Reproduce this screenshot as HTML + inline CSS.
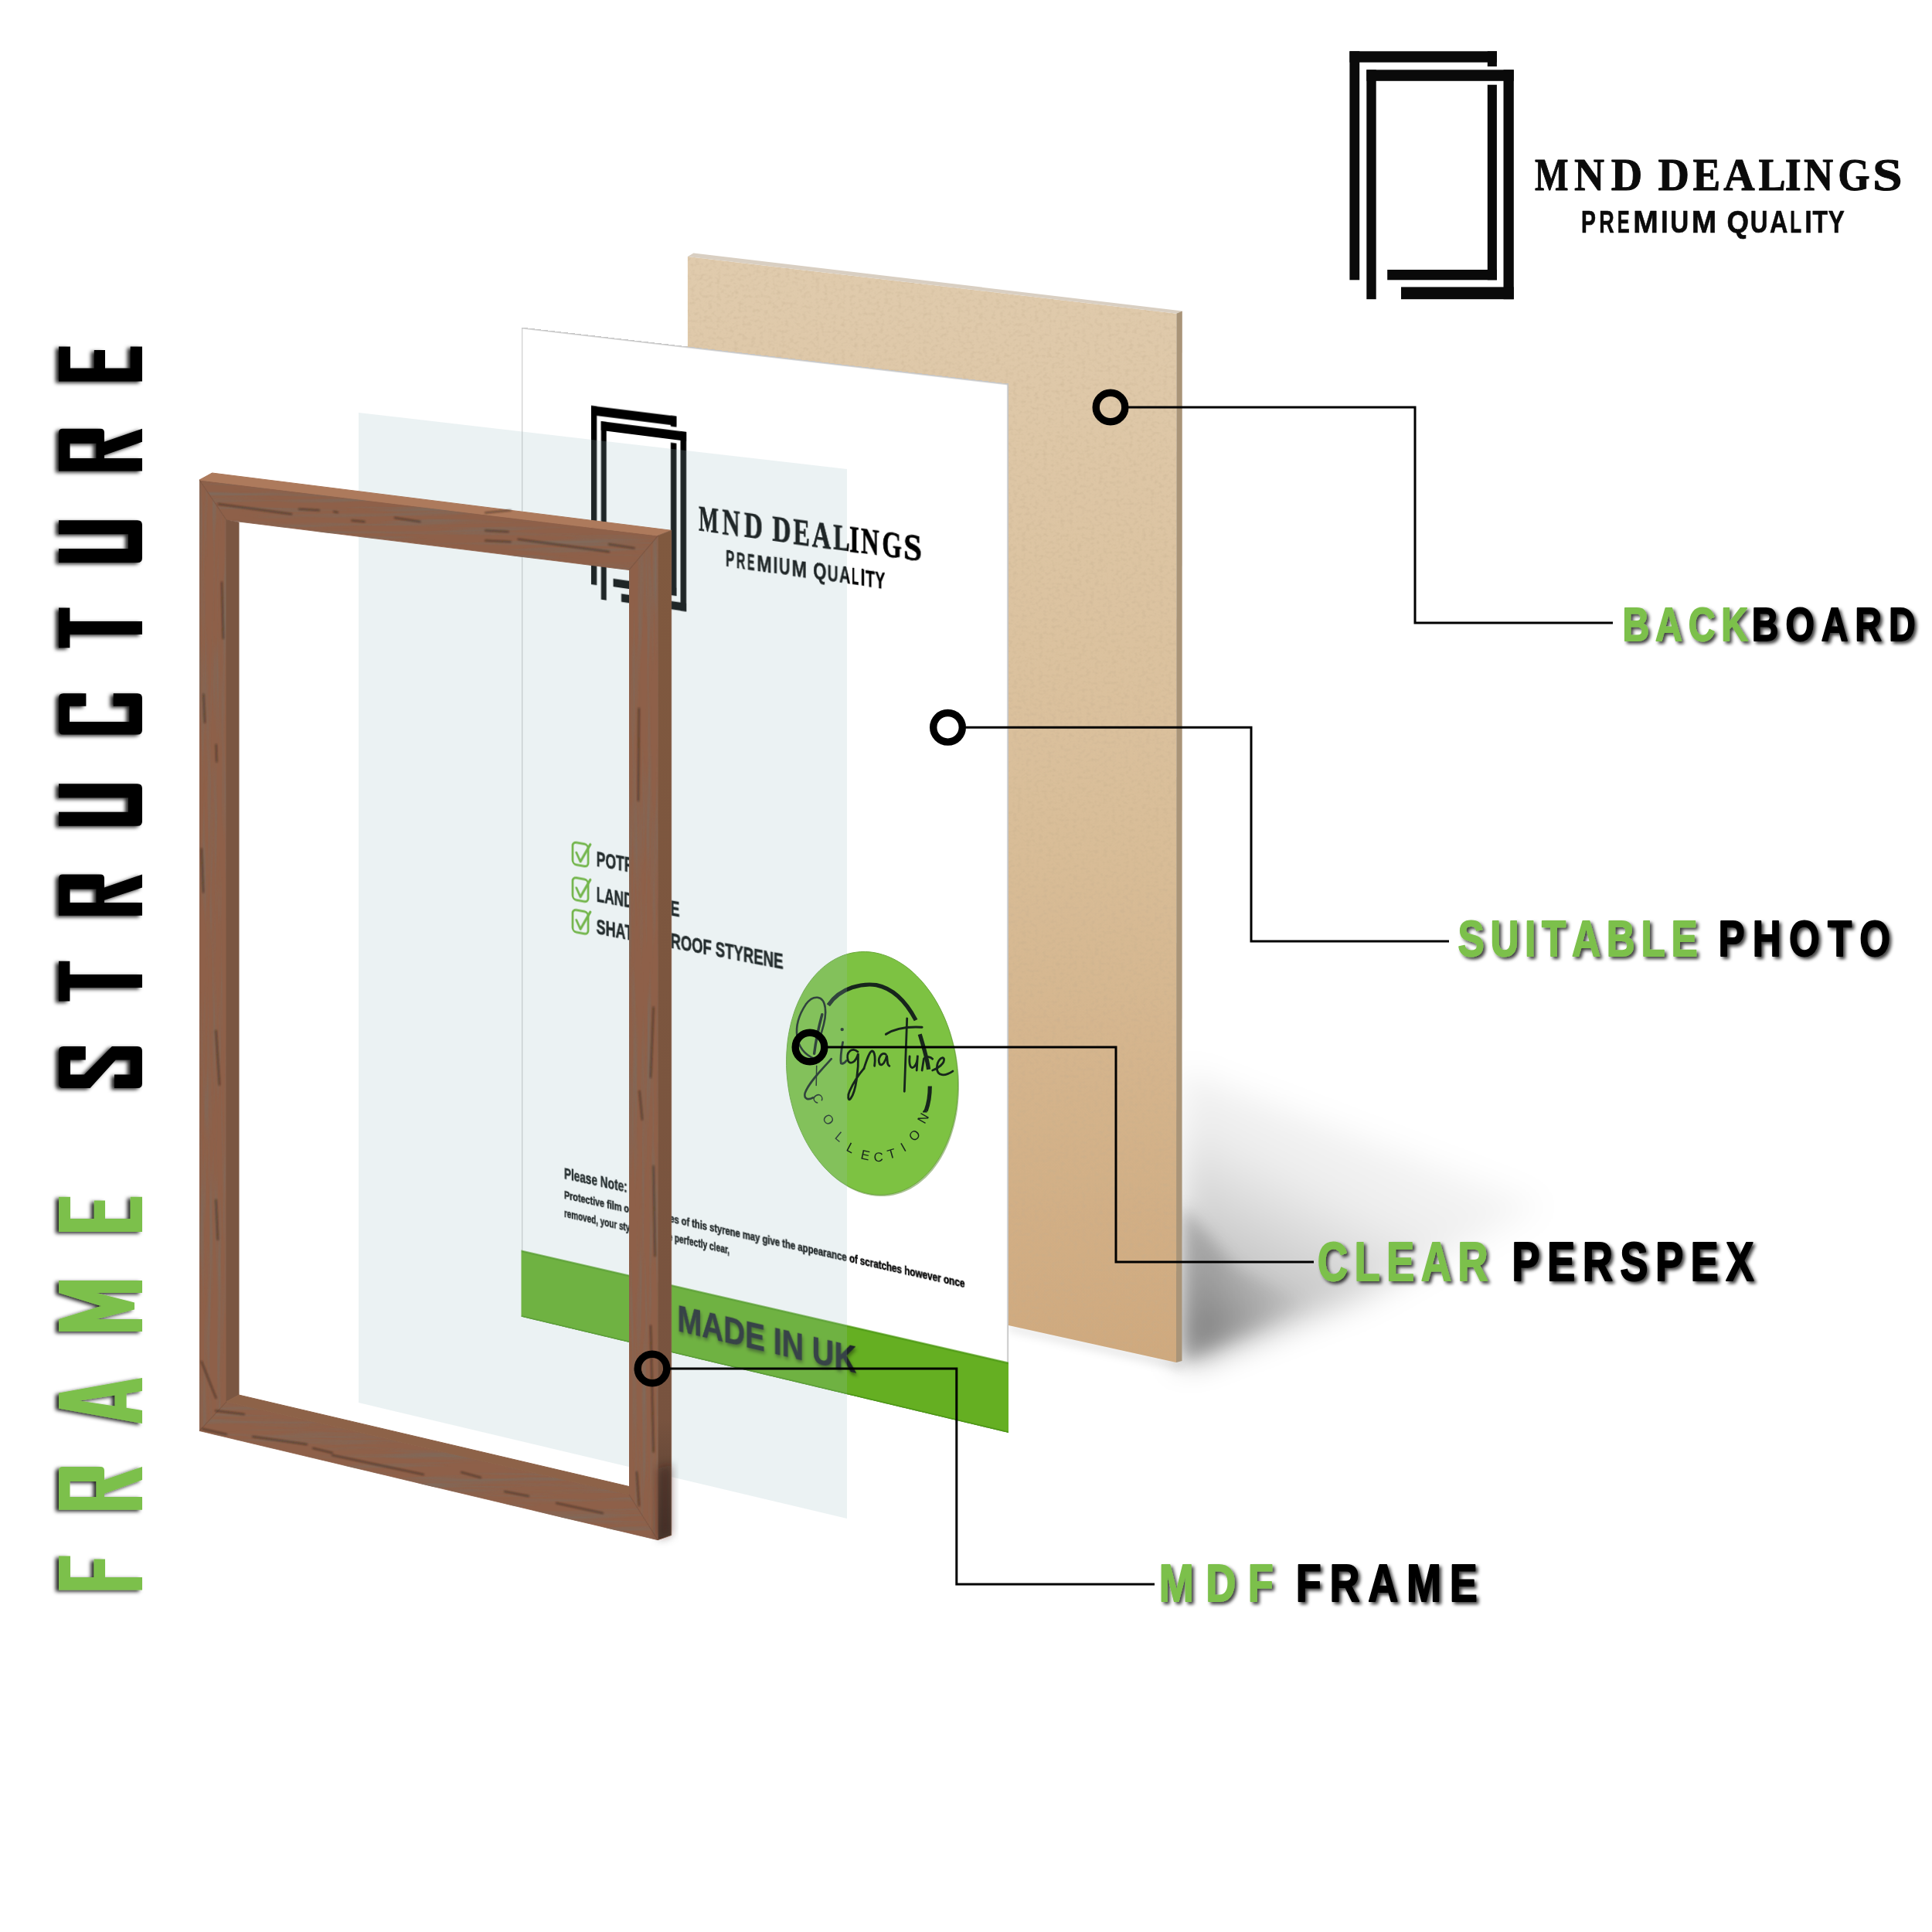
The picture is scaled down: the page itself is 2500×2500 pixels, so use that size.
<!DOCTYPE html>
<html><head><meta charset="utf-8"><style>
html,body{margin:0;padding:0;background:#fff;}
body{width:2500px;height:2500px;position:relative;overflow:hidden;font-family:"Liberation Sans",sans-serif;}
.abs{position:absolute;left:0;top:0;}
#photo{width:630px;height:1300px;transform-origin:0 0;transform:matrix3d(0.88286654,0.071006495,0,-9.0365601e-05,0,0.985,0,0,0,0,1,0,674.5,423.5,0,1);}
</style></head><body>
<svg class="abs" width="2500" height="2500" viewBox="0 0 2500 2500">
<defs>
<filter id="blur30" x="-50%" y="-50%" width="200%" height="200%"><feGaussianBlur stdDeviation="30"/></filter><filter id="blur20" x="-50%" y="-50%" width="200%" height="200%"><feGaussianBlur stdDeviation="20"/></filter><filter id="blur10" x="-50%" y="-50%" width="200%" height="200%"><feGaussianBlur stdDeviation="10"/></filter><filter id="blur14" x="-50%" y="-50%" width="200%" height="200%"><feGaussianBlur stdDeviation="14"/></filter>

<filter id="blur6" x="-50%" y="-50%" width="200%" height="200%"><feGaussianBlur stdDeviation="6"/></filter>
<filter id="mdftex" x="0" y="0" width="100%" height="100%"><feTurbulence type="fractalNoise" baseFrequency="0.18 0.22" numOctaves="2" seed="2" result="t"/><feColorMatrix in="t" type="matrix" values="0 0 0 0 0.55  0 0 0 0 0.42  0 0 0 0 0.27  0 0 0 -0.9 0.47" result="d"/><feComposite in="d" in2="SourceAlpha" operator="in" result="dm"/><feMerge><feMergeNode in="SourceGraphic"/><feMergeNode in="dm"/></feMerge></filter>
<linearGradient id="shadG" x1="0.75" y1="0" x2="0.1" y2="1"><stop offset="0" stop-color="#000" stop-opacity="0"/><stop offset="0.45" stop-color="#000" stop-opacity="0.07"/><stop offset="0.8" stop-color="#000" stop-opacity="0.25"/><stop offset="1" stop-color="#000" stop-opacity="0.42"/></linearGradient><linearGradient id="shadG2" x1="0" y1="0" x2="1" y2="0"><stop offset="0" stop-color="#000" stop-opacity="0.22"/><stop offset="1" stop-color="#000" stop-opacity="0"/></linearGradient>
<linearGradient id="mdfG" x1="0" y1="0" x2="0" y2="1"><stop offset="0" stop-color="#e0cbad"/><stop offset="0.5" stop-color="#d9be99"/><stop offset="1" stop-color="#cfa97e"/></linearGradient>
</defs>
<g filter="url(#blur20)"><polygon points="1530,1385 2000,1560 1760,1680 1530,1764" fill="url(#shadG)"/></g>
<g filter="url(#blur10)"><polygon points="1530,1560 1600,1640 1700,1690 1530,1764" fill="url(#shadG2)"/></g>
<g filter="url(#blur6)"><polygon points="1305,1714 1529,1763 1529,1772 1305,1721" fill="#000" opacity="0.12"/></g>
<g filter="url(#mdftex)"><polygon points="889.9,332.0 1522.4,405.7 1522.0,1763.0 889.9,1623.0" fill="url(#mdfG)" /></g>
<polygon points="889.9,332.0 897.4,327.5 1529.8,402.4 1522.4,405.7" fill="#d9cfc2" />
<polygon points="1522.4,405.7 1529.8,402.4 1529.5,1761.0 1522.0,1763.0" fill="#a99478" />
</svg>
<div id="photo" class="abs">
<svg width="630" height="1300" viewBox="0 0 630 1300">
<rect x="0.8" y="0.8" width="628.4" height="1298.4" fill="#fff" stroke="#c4c4c4" stroke-width="1.6"/>
<g fill="#000"><rect x="95" y="91.6" width="113.8" height="12.1"/><rect x="95" y="91.6" width="7.6" height="232.7"/><rect x="201.2" y="91.6" width="7.6" height="13.9"/><rect x="201.2" y="126.4" width="7.6" height="196.7"/><rect x="124.7" y="312.6" width="84.1" height="10.5"/><rect x="108.4" y="110.2" width="113.4" height="11.8"/><rect x="108.4" y="110.2" width="7.2" height="231.9"/><rect x="214.1" y="110.2" width="7.7" height="231.1"/><rect x="135.5" y="330.7" width="86.3" height="10.6"/></g>
<g font-family="Liberation Serif" font-weight="bold" font-size="46.56" fill="#000" stroke="#000" stroke-width="0.8" stroke-linejoin="round" ><text transform="translate(238.13,234.6) scale(0.5895,1)">M</text><text transform="translate(268.72,234.6) scale(0.6907,1)">N</text><text transform="translate(297.38,234.6) scale(0.7149,1)">D</text><text transform="translate(333.76,234.6) scale(0.7149,1)">D</text><text transform="translate(360.87,234.6) scale(0.6819,1)">E</text><text transform="translate(384.68,234.6) scale(0.7161,1)">A</text><text transform="translate(411.90,234.6) scale(0.6715,1)">L</text><text transform="translate(432.37,234.6) scale(0.6907,1)">I</text><text transform="translate(447.01,234.6) scale(0.6757,1)">N</text><text transform="translate(473.56,234.6) scale(0.6792,1)">G</text><text transform="translate(500.39,234.6) scale(0.8866,1)">S</text></g>
<g font-family="Liberation Sans" font-weight="bold" font-size="29.80" fill="#000" stroke="#000" stroke-width="0.4" stroke-linejoin="round" ><text transform="translate(273.37,275.5) scale(0.5692,1)">P</text><text transform="translate(287.31,275.5) scale(0.5391,1)">R</text><text transform="translate(301.39,275.5) scale(0.4774,1)">E</text><text transform="translate(313.65,275.5) scale(0.7825,1)">M</text><text transform="translate(335.03,275.5) scale(0.6879,1)">I</text><text transform="translate(342.46,275.5) scale(0.6629,1)">U</text><text transform="translate(358.85,275.5) scale(0.7825,1)">M</text><text transform="translate(386.21,275.5) scale(0.7354,1)">Q</text><text transform="translate(404.41,275.5) scale(0.6328,1)">U</text><text transform="translate(419.55,275.5) scale(0.6508,1)">A</text><text transform="translate(435.22,275.5) scale(0.4867,1)">L</text><text transform="translate(446.56,275.5) scale(0.6879,1)">I</text><text transform="translate(452.74,275.5) scale(0.6425,1)">T</text><text transform="translate(464.85,275.5) scale(0.6318,1)">Y</text></g>
<rect x="70" y="664" width="21" height="29" rx="5" fill="none" stroke="#6ab42f" stroke-width="2.8"/><path d="M75,677 L80.5,688 L94,663" fill="none" stroke="#6ab42f" stroke-width="3" stroke-linejoin="round" stroke-linecap="round"/>
<text x="102" y="690.5" font-family="Liberation Sans" font-weight="bold" font-size="27" fill="#060808" stroke="#060808" stroke-width="0.6" textLength="80" lengthAdjust="spacingAndGlyphs" >POTRAIT</text>
<rect x="70" y="710" width="21" height="29" rx="5" fill="none" stroke="#6ab42f" stroke-width="2.8"/><path d="M75,723 L80.5,734 L94,709" fill="none" stroke="#6ab42f" stroke-width="3" stroke-linejoin="round" stroke-linecap="round"/>
<text x="102" y="736.5" font-family="Liberation Sans" font-weight="bold" font-size="27" fill="#060808" stroke="#060808" stroke-width="0.6" textLength="111" lengthAdjust="spacingAndGlyphs" >LANDSCAPE</text>
<rect x="70" y="752" width="21" height="29" rx="5" fill="none" stroke="#6ab42f" stroke-width="2.8"/><path d="M75,765 L80.5,776 L94,751" fill="none" stroke="#6ab42f" stroke-width="3" stroke-linejoin="round" stroke-linecap="round"/>
<text x="102" y="778.5" font-family="Liberation Sans" font-weight="bold" font-size="27" fill="#060808" stroke="#060808" stroke-width="0.6" textLength="246" lengthAdjust="spacingAndGlyphs" >SHATTERPROOF STYRENE</text>
<text x="58.5" y="1105.6" font-family="Liberation Sans" font-weight="bold" font-size="20" fill="#0a0c0c" stroke="#0a0c0c" stroke-width="0.6" textLength="85" lengthAdjust="spacingAndGlyphs" >Please Note:</text>
<text x="58.5" y="1132" font-family="Liberation Sans" font-weight="bold" font-size="15" fill="#000" stroke="#000" stroke-width="0.5" textLength="518" lengthAdjust="spacingAndGlyphs" >Protective film on both sides of this styrene may give the appearance of scratches however once</text>
<text x="58.5" y="1156.4" font-family="Liberation Sans" font-weight="bold" font-size="15" fill="#000" stroke="#000" stroke-width="0.5" textLength="220" lengthAdjust="spacingAndGlyphs" >removed, your styrene will be perfectly clear,</text>
<rect x="0" y="1212.6" width="630" height="87.40000000000009" fill="#65af22"/>
<rect x="0" y="1212.6" width="630" height="2" fill="#4f9a17"/>
<rect x="0" y="1298" width="630" height="2" fill="#4f9a17"/>
<text x="210" y="1270" font-family="Liberation Sans" font-weight="bold" font-size="48" fill="#1f252a" stroke="#1f252a" stroke-width="0.6" textLength="231" lengthAdjust="spacingAndGlyphs" style="filter:drop-shadow(1px 3px 2px rgba(0,0,0,.45))">MADE IN UK</text>
</svg>
</div>
<svg class="abs" width="2500" height="2500" viewBox="0 0 2500 2500">
<polygon points="1237.6,1374.4 1238.5,1382.7 1239.2,1390.9 1239.5,1399.1 1239.5,1407.3 1239.2,1415.5 1238.6,1423.6 1237.8,1431.5 1236.6,1439.4 1235.1,1447.1 1233.3,1454.7 1231.2,1462.1 1228.9,1469.3 1226.3,1476.2 1223.4,1482.9 1220.2,1489.4 1216.9,1495.6 1213.2,1501.5 1209.3,1507.1 1205.2,1512.4 1200.9,1517.3 1196.4,1521.9 1191.7,1526.1 1186.9,1529.9 1181.9,1533.3 1176.7,1536.4 1171.4,1539.0 1166.0,1541.3 1160.5,1543.1 1154.9,1544.5 1149.2,1545.4 1143.4,1546.0 1137.7,1546.1 1131.9,1545.8 1126.0,1545.0 1120.2,1543.8 1114.5,1542.2 1108.7,1540.2 1103.0,1537.7 1097.4,1534.9 1091.9,1531.6 1086.4,1528.0 1081.1,1524.0 1075.9,1519.6 1070.9,1514.8 1066.0,1509.7 1061.3,1504.3 1056.8,1498.5 1052.4,1492.5 1048.3,1486.2 1044.4,1479.6 1040.7,1472.7 1037.3,1465.6 1034.1,1458.3 1031.2,1450.9 1028.5,1443.2 1026.2,1435.4 1024.1,1427.5 1022.2,1419.5 1020.7,1411.3 1019.5,1403.2 1018.6,1394.9 1017.9,1386.7 1017.6,1378.5 1017.6,1370.3 1017.9,1362.1 1018.5,1354.0 1019.3,1346.1 1020.5,1338.2 1022.0,1330.5 1023.8,1322.9 1025.9,1315.5 1028.2,1308.3 1030.8,1301.4 1033.7,1294.7 1036.9,1288.2 1040.2,1282.0 1043.9,1276.1 1047.8,1270.5 1051.9,1265.2 1056.2,1260.3 1060.7,1255.7 1065.4,1251.5 1070.2,1247.7 1075.2,1244.3 1080.4,1241.2 1085.7,1238.6 1091.1,1236.3 1096.6,1234.5 1102.2,1233.1 1107.9,1232.2 1113.7,1231.6 1119.4,1231.5 1125.2,1231.8 1131.1,1232.6 1136.9,1233.8 1142.6,1235.4 1148.4,1237.4 1154.1,1239.9 1159.7,1242.7 1165.2,1246.0 1170.7,1249.6 1176.0,1253.6 1181.2,1258.0 1186.2,1262.8 1191.1,1267.9 1195.8,1273.3 1200.3,1279.1 1204.7,1285.1 1208.8,1291.4 1212.7,1298.0 1216.4,1304.9 1219.8,1312.0 1223.0,1319.3 1225.9,1326.7 1228.6,1334.4 1230.9,1342.2 1233.0,1350.1 1234.9,1358.1 1236.4,1366.3" fill="#6f9a4a" transform="translate(1.5,2)" opacity="0.6"/>
<polygon points="1237.6,1374.4 1238.5,1382.7 1239.2,1390.9 1239.5,1399.1 1239.5,1407.3 1239.2,1415.5 1238.6,1423.6 1237.8,1431.5 1236.6,1439.4 1235.1,1447.1 1233.3,1454.7 1231.2,1462.1 1228.9,1469.3 1226.3,1476.2 1223.4,1482.9 1220.2,1489.4 1216.9,1495.6 1213.2,1501.5 1209.3,1507.1 1205.2,1512.4 1200.9,1517.3 1196.4,1521.9 1191.7,1526.1 1186.9,1529.9 1181.9,1533.3 1176.7,1536.4 1171.4,1539.0 1166.0,1541.3 1160.5,1543.1 1154.9,1544.5 1149.2,1545.4 1143.4,1546.0 1137.7,1546.1 1131.9,1545.8 1126.0,1545.0 1120.2,1543.8 1114.5,1542.2 1108.7,1540.2 1103.0,1537.7 1097.4,1534.9 1091.9,1531.6 1086.4,1528.0 1081.1,1524.0 1075.9,1519.6 1070.9,1514.8 1066.0,1509.7 1061.3,1504.3 1056.8,1498.5 1052.4,1492.5 1048.3,1486.2 1044.4,1479.6 1040.7,1472.7 1037.3,1465.6 1034.1,1458.3 1031.2,1450.9 1028.5,1443.2 1026.2,1435.4 1024.1,1427.5 1022.2,1419.5 1020.7,1411.3 1019.5,1403.2 1018.6,1394.9 1017.9,1386.7 1017.6,1378.5 1017.6,1370.3 1017.9,1362.1 1018.5,1354.0 1019.3,1346.1 1020.5,1338.2 1022.0,1330.5 1023.8,1322.9 1025.9,1315.5 1028.2,1308.3 1030.8,1301.4 1033.7,1294.7 1036.9,1288.2 1040.2,1282.0 1043.9,1276.1 1047.8,1270.5 1051.9,1265.2 1056.2,1260.3 1060.7,1255.7 1065.4,1251.5 1070.2,1247.7 1075.2,1244.3 1080.4,1241.2 1085.7,1238.6 1091.1,1236.3 1096.6,1234.5 1102.2,1233.1 1107.9,1232.2 1113.7,1231.6 1119.4,1231.5 1125.2,1231.8 1131.1,1232.6 1136.9,1233.8 1142.6,1235.4 1148.4,1237.4 1154.1,1239.9 1159.7,1242.7 1165.2,1246.0 1170.7,1249.6 1176.0,1253.6 1181.2,1258.0 1186.2,1262.8 1191.1,1267.9 1195.8,1273.3 1200.3,1279.1 1204.7,1285.1 1208.8,1291.4 1212.7,1298.0 1216.4,1304.9 1219.8,1312.0 1223.0,1319.3 1225.9,1326.7 1228.6,1334.4 1230.9,1342.2 1233.0,1350.1 1234.9,1358.1 1236.4,1366.3" fill="#7dc242" stroke="#6aa83a" stroke-width="1"/>
<path d="M 1054.2,1370.2 C 1026.8,1358.8 1024.6,1326.9 1042.8,1299.6 C 1051.9,1287.1 1065.5,1287.1 1067.8,1304.2 C 1070.1,1317.8 1063.3,1333.8 1061.0,1342.9" fill="none" stroke="#17251c" stroke-width="2.6" stroke-linecap="round"/>
<path d="M 1063.8,1312.7 C 1059.9,1326.9 1055.3,1349.7 1053.6,1363.4" fill="none" stroke="#17251c" stroke-width="3.4" stroke-linecap="round"/>
<path d="M 1075.8,1370.2 C 1065.5,1381.6 1046.2,1400.9 1041.6,1414.6 C 1039.9,1422.6 1046.2,1423.7 1051.9,1420.3" fill="none" stroke="#17251c" stroke-width="2.6" stroke-linecap="round"/>
<path d="M 1056.7,1379.3 L 1056.2,1404.4" fill="none" stroke="#17251c" stroke-width="1.5" stroke-linecap="round"/>
<path d="M 1090.6,1348.6 C 1088.3,1361.1 1087.2,1370.2 1088.3,1375.9 C 1089.5,1377.0 1092.9,1375.9 1095.2,1372.5" fill="none" stroke="#17251c" stroke-width="2.8" stroke-linecap="round"/>
<path d="M 1110.0,1361.1 C 1103.1,1354.3 1094.0,1361.1 1097.4,1372.5 C 1099.7,1378.2 1107.7,1374.8 1110.5,1363.4 C 1111.1,1383.9 1107.7,1412.3 1100.8,1421.4 C 1097.4,1426.0 1096.3,1418.0 1099.7,1411.2 C 1104.3,1400.9 1111.1,1390.7 1117.9,1382.7" fill="none" stroke="#17251c" stroke-width="2.8" stroke-linecap="round"/>
<path d="M 1117.9,1382.7 C 1121.3,1372.5 1124.8,1361.1 1128.2,1360.0 C 1132.7,1360.0 1132.7,1372.5 1131.6,1379.3" fill="none" stroke="#17251c" stroke-width="2.8" stroke-linecap="round"/>
<path d="M 1146.4,1364.5 C 1140.7,1360.0 1135.0,1370.2 1138.4,1377.0 C 1141.8,1380.5 1146.4,1372.5 1147.5,1365.7 C 1148.7,1372.5 1147.5,1378.2 1150.9,1379.3" fill="none" stroke="#17251c" stroke-width="2.8" stroke-linecap="round"/>
<path d="M 1173.7,1317.8 L 1170.3,1412.3" fill="none" stroke="#17251c" stroke-width="2.8" stroke-linecap="round"/>
<path d="M 1146.4,1338.3 C 1156.6,1331.5 1173.7,1328.1 1193.1,1329.2" fill="none" stroke="#17251c" stroke-width="3.0" stroke-linecap="round"/>
<path d="M 1177.1,1366.8 C 1176.0,1378.2 1178.3,1383.9 1182.8,1380.5 C 1186.2,1377.0 1187.4,1370.2 1187.4,1365.7 L 1186.2,1385.0" fill="none" stroke="#17251c" stroke-width="2.8" stroke-linecap="round"/>
<path d="M 1193.1,1385.0 L 1195.4,1370.2 C 1198.8,1365.7 1204.5,1367.9 1206.7,1370.2" fill="none" stroke="#17251c" stroke-width="2.8" stroke-linecap="round"/>
<path d="M 1206.7,1385.0 C 1213.6,1382.7 1222.7,1375.9 1221.5,1370.2 C 1219.3,1365.7 1212.4,1372.5 1212.4,1381.6 C 1212.4,1393.0 1222.7,1393.0 1232.9,1386.1" fill="none" stroke="#17251c" stroke-width="2.8" stroke-linecap="round"/>
<circle cx="1089.7" cy="1332.1" r="2.2" fill="#17251c"/>
<path d="M 1071.8,1300.7 C 1088.3,1276.8 1116.8,1272.3 1133.9,1274.6 C 1156.6,1279.1 1173.7,1298.5 1185.1,1320.1" fill="none" stroke="#17251c" stroke-width="5.2"/>
<path d="M 1190.2,1338.3 C 1195.4,1355.4 1199.9,1370.2 1201.6,1383.9" fill="none" stroke="#17251c" stroke-width="5.2"/>
<path d="M 1203.3,1405.5 C 1203.3,1418.0 1201.1,1429.4 1198.2,1437.4" fill="none" stroke="#17251c" stroke-width="5.2"/>
<path d="M 1198.2,1436.9 C 1197.3,1437.8 1196.4,1438.7 1196.4,1439.5" fill="none" stroke="#17251c" stroke-width="5"/>
<text x="1058.1" y="1421.6" transform="rotate(62 1058.1 1421.6)" font-family="Liberation Sans" font-size="17" fill="#17251c" text-anchor="middle" dominant-baseline="central">C</text>
<text x="1071.7" y="1448.9" transform="rotate(52 1071.7 1448.9)" font-family="Liberation Sans" font-size="17" fill="#17251c" text-anchor="middle" dominant-baseline="central">O</text>
<text x="1086.3" y="1471.1" transform="rotate(40 1086.3 1471.1)" font-family="Liberation Sans" font-size="17" fill="#17251c" text-anchor="middle" dominant-baseline="central">L</text>
<text x="1100.8" y="1485.6" transform="rotate(28 1100.8 1485.6)" font-family="Liberation Sans" font-size="17" fill="#17251c" text-anchor="middle" dominant-baseline="central">L</text>
<text x="1119.6" y="1495.0" transform="rotate(12 1119.6 1495.0)" font-family="Liberation Sans" font-size="17" fill="#17251c" text-anchor="middle" dominant-baseline="central">E</text>
<text x="1136.7" y="1497.6" transform="rotate(-2 1136.7 1497.6)" font-family="Liberation Sans" font-size="17" fill="#17251c" text-anchor="middle" dominant-baseline="central">C</text>
<text x="1153.7" y="1493.3" transform="rotate(-16 1153.7 1493.3)" font-family="Liberation Sans" font-size="17" fill="#17251c" text-anchor="middle" dominant-baseline="central">T</text>
<text x="1169.1" y="1484.8" transform="rotate(-30 1169.1 1484.8)" font-family="Liberation Sans" font-size="17" fill="#17251c" text-anchor="middle" dominant-baseline="central">I</text>
<text x="1183.6" y="1469.4" transform="rotate(-45 1183.6 1469.4)" font-family="Liberation Sans" font-size="17" fill="#17251c" text-anchor="middle" dominant-baseline="central">O</text>
<text x="1194.7" y="1447.2" transform="rotate(-60 1194.7 1447.2)" font-family="Liberation Sans" font-size="17" fill="#17251c" text-anchor="middle" dominant-baseline="central">N</text>
</svg>
<svg class="abs" width="2500" height="2500" viewBox="0 0 2500 2500">
<defs>
<linearGradient id="woodG" x1="0" y1="0" x2="1" y2="1"><stop offset="0" stop-color="#9a6b50"/><stop offset="1" stop-color="#92654b"/></linearGradient>
<linearGradient id="sideG" x1="0" y1="0" x2="0" y2="1"><stop offset="0" stop-color="#80593f"/><stop offset="0.88" stop-color="#78533f"/><stop offset="1" stop-color="#503b2f"/></linearGradient>
<filter id="grainH" x="0" y="0" width="100%" height="100%"><feTurbulence type="fractalNoise" baseFrequency="0.006 0.16" numOctaves="3" seed="11" result="t"/><feColorMatrix in="t" type="matrix" values="0 0 0 0 0.22  0 0 0 0 0.14  0 0 0 0 0.1  0 0 0 -2.6 1.45" result="d"/><feComposite in="d" in2="SourceAlpha" operator="in" result="dm"/><feMerge><feMergeNode in="SourceGraphic"/><feMergeNode in="dm"/></feMerge></filter>
<filter id="grainV" x="0" y="0" width="100%" height="100%"><feTurbulence type="fractalNoise" baseFrequency="0.16 0.006" numOctaves="3" seed="5" result="t"/><feColorMatrix in="t" type="matrix" values="0 0 0 0 0.22  0 0 0 0 0.14  0 0 0 0 0.1  0 0 0 -2.6 1.45" result="d"/><feComposite in="d" in2="SourceAlpha" operator="in" result="dm"/><feMerge><feMergeNode in="SourceGraphic"/><feMergeNode in="dm"/></feMerge></filter>
<filter id="blur6" x="-50%" y="-50%" width="200%" height="200%"><feGaussianBlur stdDeviation="6"/></filter>
<filter id="blur1" x="-20%" y="-20%" width="140%" height="140%"><feGaussianBlur stdDeviation="0.9"/></filter>
<filter id="tshadow" x="-10%" y="-30%" width="120%" height="160%"><feDropShadow dx="3" dy="3" stdDeviation="2.2" flood-color="#000" flood-opacity="0.75"/></filter>
<filter id="vshadow" x="-20%" y="-20%" width="140%" height="140%"><feDropShadow dx="-4" dy="2" stdDeviation="2.5" flood-color="#000" flood-opacity="0.85"/></filter>
</defs>
<polygon points="464.0,534.0 1096.0,607.0 1096.0,1965.0 464.0,1815.0" fill="rgba(155,191,195,0.2)" />
<g filter="url(#grainH)"><polygon points="258.0,621.0 851.6,693.0 814.0,737.5 293.0,673.0" fill="#8e6049" stroke="#8e6049" stroke-width="0.8"/></g>
<g filter="url(#grainH)"><polygon points="258.0,1851.5 851.3,1992.7 814.0,1934.0 293.0,1813.8" fill="#8e6049" stroke="#8e6049" stroke-width="0.8"/></g>
<g filter="url(#grainV)"><polygon points="258.0,621.0 293.0,673.0 293.0,1813.8 258.0,1851.5" fill="#8e6049" stroke="#8e6049" stroke-width="0.8"/></g>
<g filter="url(#grainV)"><polygon points="851.6,693.0 851.3,1992.7 814.0,1934.0 814.0,737.5" fill="#8e6049" stroke="#8e6049" stroke-width="0.8"/></g>
<polygon points="258.0,621.0 274.5,612.0 868.7,686.3 851.6,693.0" fill="#ad7a5c" stroke="#ad7a5c" stroke-width="1"/>
<polygon points="851.6,693.0 868.7,686.3 868.7,1986.5 851.3,1992.7" fill="url(#sideG)" stroke="#85604a" stroke-width="0.8"/>
<polygon points="293.0,673.0 309.0,676.0 309.0,1805.0 293.0,1813.8" fill="#7a5642" stroke="#7a5642" stroke-width="1"/>
<polygon points="309.0,1805.0 814.0,1923.5 814.0,1934.0 293.0,1813.8" fill="#8d6248" stroke="#8d6248" stroke-width="1"/>
<line x1="258" y1="621" x2="293" y2="673" stroke="#7a5440" stroke-width="1.2" opacity="0.7"/>
<line x1="851.6" y1="693" x2="814" y2="737.5" stroke="#7a5440" stroke-width="1.2" opacity="0.7"/>
<line x1="851.3" y1="1992.7" x2="814" y2="1934" stroke="#7a5440" stroke-width="1.2" opacity="0.7"/>
<line x1="258" y1="1851.5" x2="293" y2="1813.8" stroke="#7a5440" stroke-width="1.2" opacity="0.7"/>
<g filter="url(#blur1)">
<line x1="282.6" y1="652.2" x2="377.2" y2="665.2" stroke="#2a1c14" stroke-width="2" opacity="0.55" stroke-linecap="round"/>
<line x1="387" y1="658.7" x2="413" y2="660.3" stroke="#2a1c14" stroke-width="2" opacity="0.55" stroke-linecap="round"/>
<line x1="432" y1="662" x2="437" y2="663" stroke="#2a1c14" stroke-width="2" opacity="0.55" stroke-linecap="round"/>
<line x1="455.4" y1="673.4" x2="471.7" y2="675" stroke="#2a1c14" stroke-width="2" opacity="0.55" stroke-linecap="round"/>
<line x1="510.8" y1="670" x2="543.4" y2="675" stroke="#2a1c14" stroke-width="2" opacity="0.55" stroke-linecap="round"/>
<line x1="628.2" y1="663.6" x2="660.8" y2="660.3" stroke="#2a1c14" stroke-width="2" opacity="0.55" stroke-linecap="round"/>
<line x1="628.2" y1="686.4" x2="657.6" y2="688" stroke="#2a1c14" stroke-width="2" opacity="0.55" stroke-linecap="round"/>
<line x1="628.2" y1="699.4" x2="660.8" y2="701" stroke="#2a1c14" stroke-width="2" opacity="0.55" stroke-linecap="round"/>
<line x1="670.6" y1="697.8" x2="788" y2="714.1" stroke="#2a1c14" stroke-width="2" opacity="0.55" stroke-linecap="round"/>
<line x1="788" y1="704.3" x2="820.6" y2="709.2" stroke="#2a1c14" stroke-width="2" opacity="0.55" stroke-linecap="round"/>
<line x1="279" y1="1825.4" x2="316" y2="1830" stroke="#2a1c14" stroke-width="2" opacity="0.55" stroke-linecap="round"/>
<line x1="262" y1="1849" x2="293" y2="1856" stroke="#2a1c14" stroke-width="2" opacity="0.55" stroke-linecap="round"/>
<line x1="327" y1="1859" x2="397" y2="1869" stroke="#2a1c14" stroke-width="2" opacity="0.55" stroke-linecap="round"/>
<line x1="405" y1="1874" x2="430" y2="1880" stroke="#2a1c14" stroke-width="2" opacity="0.55" stroke-linecap="round"/>
<line x1="430" y1="1883" x2="548" y2="1908" stroke="#2a1c14" stroke-width="2" opacity="0.55" stroke-linecap="round"/>
<line x1="597" y1="1905" x2="622" y2="1912" stroke="#2a1c14" stroke-width="2" opacity="0.55" stroke-linecap="round"/>
<line x1="653" y1="1930" x2="684" y2="1936" stroke="#2a1c14" stroke-width="2" opacity="0.55" stroke-linecap="round"/>
<line x1="720" y1="1945" x2="780" y2="1958" stroke="#2a1c14" stroke-width="2" opacity="0.55" stroke-linecap="round"/>
<line x1="287" y1="753.6" x2="288.8" y2="826" stroke="#2a1c14" stroke-width="2" opacity="0.55" stroke-linecap="round"/>
<line x1="263.4" y1="898.6" x2="265" y2="934.8" stroke="#2a1c14" stroke-width="2" opacity="0.55" stroke-linecap="round"/>
<line x1="279.7" y1="963.8" x2="280.4" y2="985.5" stroke="#2a1c14" stroke-width="2" opacity="0.55" stroke-linecap="round"/>
<line x1="260.8" y1="1098.6" x2="263" y2="1154.5" stroke="#2a1c14" stroke-width="2" opacity="0.55" stroke-linecap="round"/>
<line x1="279.5" y1="1333.8" x2="284" y2="1403.7" stroke="#2a1c14" stroke-width="2" opacity="0.55" stroke-linecap="round"/>
<line x1="279.5" y1="1552.7" x2="281.8" y2="1604" stroke="#2a1c14" stroke-width="2" opacity="0.55" stroke-linecap="round"/>
<line x1="260.8" y1="1762" x2="279.5" y2="1809" stroke="#2a1c14" stroke-width="2" opacity="0.55" stroke-linecap="round"/>
<line x1="826.8" y1="916.7" x2="826" y2="1036" stroke="#2a1c14" stroke-width="2" opacity="0.55" stroke-linecap="round"/>
<line x1="845.6" y1="1303.6" x2="842" y2="1394" stroke="#2a1c14" stroke-width="2" opacity="0.55" stroke-linecap="round"/>
<line x1="827.5" y1="1412" x2="831" y2="1448.6" stroke="#2a1c14" stroke-width="2" opacity="0.55" stroke-linecap="round"/>
<line x1="845.6" y1="1509" x2="847.5" y2="1625" stroke="#2a1c14" stroke-width="2" opacity="0.55" stroke-linecap="round"/>
<line x1="842" y1="1715.5" x2="845.6" y2="1878.6" stroke="#2a1c14" stroke-width="2" opacity="0.55" stroke-linecap="round"/>
<line x1="824" y1="1905" x2="827" y2="1948" stroke="#2a1c14" stroke-width="2" opacity="0.55" stroke-linecap="round"/>
</g>
<g filter="url(#blur6)"><polygon points="852,1900 869,1895 869,1986 852,1992" fill="#2a1d17" opacity="0.45"/></g>
<path d="M1460,527L1831,527L1831,806L2087,806" fill="none" stroke="#000" stroke-width="3"/>
<circle cx="1437" cy="527" r="18.8" fill="none" stroke="#000" stroke-width="9.4"/>
<path d="M1249.5,941.3L1619,941.3L1619,1218L1875,1218" fill="none" stroke="#000" stroke-width="3"/>
<circle cx="1226.5" cy="941.3" r="18.8" fill="none" stroke="#000" stroke-width="9.4"/>
<path d="M1071,1355L1444,1355L1444,1633L1700,1633" fill="none" stroke="#000" stroke-width="3"/>
<circle cx="1048" cy="1355" r="18.8" fill="none" stroke="#000" stroke-width="9.4"/>
<path d="M867,1771L1237.8,1771L1237.8,2050L1494,2050" fill="none" stroke="#000" stroke-width="3"/>
<circle cx="844" cy="1771" r="18.8" fill="none" stroke="#000" stroke-width="9.4"/>
<g filter="url(#tshadow)">
<text transform="scale(0.78,1)" x="2691.77 2746.32 2800.87 2855.43" y="828.7" font-family="Liberation Sans" font-weight="bold" font-size="61.63" fill="#7cc04b" stroke="#7cc04b" stroke-width="1.8" stroke-linejoin="round">BACK</text>
<text transform="scale(0.78,1)" x="2906.13 2962.08 3021.45 3077.40 3133.34" y="828.7" font-family="Liberation Sans" font-weight="bold" font-size="61.63" fill="#000" stroke="#000" stroke-width="1.8" stroke-linejoin="round">BOARD</text>
<text transform="scale(0.78,1)" x="2418.62 2472.30 2529.58 2557.74 2607.73 2665.02 2722.31 2772.30" y="1237.5" font-family="Liberation Sans" font-weight="bold" font-size="65.55" fill="#7cc04b" stroke="#7cc04b" stroke-width="1.8" stroke-linejoin="round">SUITABLE</text>
<text transform="scale(0.78,1)" x="2850.74 2907.53 2967.94 3031.99 3085.10" y="1237.5" font-family="Liberation Sans" font-weight="bold" font-size="65.55" fill="#000" stroke="#000" stroke-width="1.8" stroke-linejoin="round">PHOTO</text>
<text transform="scale(0.78,1)" x="2185.60 2246.69 2300.02 2357.26 2418.35" y="1657" font-family="Liberation Sans" font-weight="bold" font-size="69.77" fill="#7cc04b" stroke="#7cc04b" stroke-width="1.8" stroke-linejoin="round">CLEAR</text>
<text transform="scale(0.78,1)" x="2508.15 2566.66 2625.17 2687.53 2746.04 2804.54 2863.05" y="1657" font-family="Liberation Sans" font-weight="bold" font-size="69.77" fill="#000" stroke="#000" stroke-width="1.8" stroke-linejoin="round">PERSPEX</text>
<text transform="scale(0.78,1)" x="1922.67 2000.34 2070.32" y="2071.7" font-family="Liberation Sans" font-weight="bold" font-size="69.33" fill="#7cc04b" stroke="#7cc04b" stroke-width="1.8" stroke-linejoin="round">MDF</text>
<text transform="scale(0.78,1)" x="2149.59 2205.72 2269.56 2333.40 2404.93" y="2071.7" font-family="Liberation Sans" font-weight="bold" font-size="69.33" fill="#000" stroke="#000" stroke-width="1.8" stroke-linejoin="round">FRAME</text>
</g>
<g filter="url(#vshadow)">
<path fill="#000" fill-rule="evenodd" transform="matrix(0,-1,1,0,76,493.5)" d="M0,0H45.10000000000002V15H17V45.8H40.4V60H17V92.7H45.10000000000002V108H0Z"/>
<path fill="#000" fill-rule="evenodd" transform="matrix(0,-1,1,0,76,609.6)" d="M0,0H49.89999999999998Q54.89999999999998,0 54.89999999999998,5V54Q54.89999999999998,59 49.89999999999998,59H37.89999999999998L54.89999999999998,108H37.89999999999998L20.58749999999999,59H16.7V108H0ZM16.7,14.5V48.5H35.89999999999998V14.5Z"/>
<path fill="#000" fill-rule="evenodd" transform="matrix(0,-1,1,0,76,728.0)" d="M0,0H18V90H36.700000000000045V0H54.700000000000045V102Q54.700000000000045,108 48.700000000000045,108H6Q0,108 0,102Z"/>
<path fill="#000" fill-rule="evenodd" transform="matrix(0,-1,1,0,76,838.2)" d="M0,0H51.60000000000002V14.4H34.30000000000001V108H17.30000000000001V14.4H0Z"/>
<path fill="#000" fill-rule="evenodd" transform="matrix(0,-1,1,0,76,950.5)" d="M6,0H47.299999999999955Q53.299999999999955,0 53.299999999999955,6V35.4H36.69999999999995V14H16.6V91.4H36.69999999999995V70.7H53.299999999999955V102Q53.299999999999955,108 47.299999999999955,108H6Q0,108 0,102V6Q0,0 6,0Z"/>
<path fill="#000" fill-rule="evenodd" transform="matrix(0,-1,1,0,76,1068.8)" d="M0,0H18V90H36.59999999999991V0H54.59999999999991V102Q54.59999999999991,108 48.59999999999991,108H6Q0,108 0,102Z"/>
<path fill="#000" fill-rule="evenodd" transform="matrix(0,-1,1,0,76,1184.8)" d="M0,0H48.299999999999955Q53.299999999999955,0 53.299999999999955,5V54Q53.299999999999955,59 48.299999999999955,59H36.299999999999955L53.299999999999955,108H36.299999999999955L19.987499999999983,59H16.7V108H0ZM16.7,14.5V48.5H34.299999999999955V14.5Z"/>
<path fill="#000" fill-rule="evenodd" transform="matrix(0,-1,1,0,76,1295.4)" d="M0,0H51.700000000000045V14.4H34.35000000000002V108H17.350000000000023V14.4H0Z"/>
<path fill="#000" fill-rule="evenodd" transform="matrix(0,-1,1,0,76,1408.0)" d="M6,0H48Q54,0 54,6V34.8H36.6V15H17.4V33L54,68.9V102Q54,108 48,108H6Q0,108 0,102V72H17.4V92.7H36.6V73.7L0,40.6V6Q0,0 6,0Z"/>
<path fill="#7cc04b" fill-rule="evenodd" transform="matrix(0,-1,1,0,76,1594.0)" d="M0,0H45.299999999999955V15H17V45.8H40.4V60H17V92.7H45.299999999999955V108H0Z"/>
<path fill="#7cc04b" fill-rule="evenodd" transform="matrix(0,-1,1,0,76,1723.0)" d="M0,0H16L33.0,55L50,0H66V108H50V49L37.5,98H28.5L16,49V108H0Z"/>
<path fill="#7cc04b" fill-rule="evenodd" transform="matrix(0,-1,1,0,76,1842.0)" d="M0,108L19.6,0H39.4L59,108H42.1L38.7,87.6H20.3L16.9,108Z M29.5,26.8L36.5,72.6H22.5Z"/>
<path fill="#7cc04b" fill-rule="evenodd" transform="matrix(0,-1,1,0,76,1953.7)" d="M0,0H50.700000000000045Q55.700000000000045,0 55.700000000000045,5V54Q55.700000000000045,59 50.700000000000045,59H38.700000000000045L55.700000000000045,108H38.700000000000045L20.887500000000017,59H16.7V108H0ZM16.7,14.5V48.5H36.700000000000045V14.5Z"/>
<path fill="#7cc04b" fill-rule="evenodd" transform="matrix(0,-1,1,0,76,2057.5)" d="M0,0H44.0V15H16.5V45.5H40.0V60H16.5V108H0Z"/>
</g>
<g fill="#0a0a0a">
<rect x="1746.4" y="66.3" width="190.5" height="14.4"/>
<rect x="1746.4" y="66.3" width="12.8" height="296.0"/>
<rect x="1924.8" y="66.3" width="12.1" height="19.7"/>
<rect x="1924.8" y="109.7" width="12.1" height="252.6"/>
<rect x="1795.2" y="349" width="141.7" height="13.3"/>
<rect x="1768.3" y="90.3" width="190.5" height="14.5"/>
<rect x="1768.3" y="90.3" width="12.4" height="296.9"/>
<rect x="1945.5" y="90.3" width="13.3" height="296.9"/>
<rect x="1813" y="371.4" width="145.8" height="15.8"/>
</g>
<g font-family="Liberation Serif" font-weight="bold" font-size="59.54" fill="#0b0b0b" stroke="#0b0b0b" stroke-width="1.0" stroke-linejoin="round" ><text transform="translate(1986.11,246) scale(0.7743,1)">M</text><text transform="translate(2037.07,246) scale(0.9080,1)">N</text><text transform="translate(2084.82,246) scale(0.9399,1)">D</text><text transform="translate(2145.42,246) scale(0.9399,1)">D</text><text transform="translate(2190.59,246) scale(0.8978,1)">E</text><text transform="translate(2230.25,246) scale(0.9409,1)">A</text><text transform="translate(2275.60,246) scale(0.8841,1)">L</text><text transform="translate(2309.78,246) scale(0.9080,1)">I</text><text transform="translate(2334.09,246) scale(0.8885,1)">N</text><text transform="translate(2378.30,246) scale(0.8928,1)">G</text><text transform="translate(2423.00,246) scale(1.1672,1)">S</text></g>
<g font-family="Liberation Sans" font-weight="bold" font-size="40.70" fill="#0b0b0b" stroke="#0b0b0b" stroke-width="0.6" stroke-linejoin="round" ><text transform="translate(2045.90,300.8) scale(0.6990,1)">P</text><text transform="translate(2069.20,300.8) scale(0.6619,1)">R</text><text transform="translate(2092.70,300.8) scale(0.5869,1)">E</text><text transform="translate(2113.19,300.8) scale(0.9594,1)">M</text><text transform="translate(2148.88,300.8) scale(0.8529,1)">I</text><text transform="translate(2161.31,300.8) scale(0.8135,1)">U</text><text transform="translate(2188.69,300.8) scale(0.9594,1)">M</text><text transform="translate(2234.39,300.8) scale(0.9018,1)">Q</text><text transform="translate(2264.80,300.8) scale(0.7767,1)">U</text><text transform="translate(2290.09,300.8) scale(0.7984,1)">A</text><text transform="translate(2316.27,300.8) scale(0.5985,1)">L</text><text transform="translate(2335.18,300.8) scale(0.8529,1)">I</text><text transform="translate(2345.54,300.8) scale(0.7886,1)">T</text><text transform="translate(2365.76,300.8) scale(0.7754,1)">Y</text></g>
</svg>
</body></html>
